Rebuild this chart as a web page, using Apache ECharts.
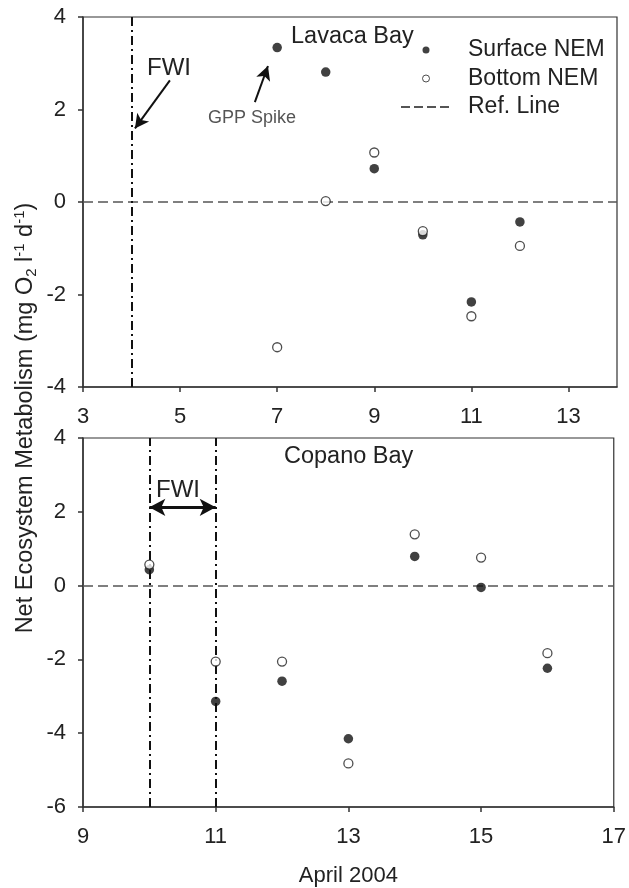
<!DOCTYPE html>
<html><head><meta charset="utf-8">
<script src="https://cdn.jsdelivr.net/npm/echarts@6/dist/echarts.min.js"></script>
<style>html,body{margin:0;padding:0;background:#fff}#c{width:629px;height:888px}</style>
</head><body><div id="c"></div>
<script>
// ---- data ----
const lavacaDays = [7, 8, 9, 10, 11, 12];
const lavacaSurface = [3.34, 2.81, 0.72, -0.71, -2.16, -0.43];
const lavacaBottom = [-3.14, 0.02, 1.07, -0.63, -2.47, -0.95];
const copanoDays = [10, 11, 12, 13, 14, 15, 16];
const copanoSurface = [0.43, -3.14, -2.59, -4.15, 0.79, -0.05, -2.24];
const copanoBottom = [0.57, -2.06, -2.06, -4.82, 1.39, 0.76, -1.83];
const lavacaFWI = [4];
const copanoFWI = [10, 11];
const refLineValue = 0;
const topXRange = [3, 14];
const topYRange = [-4, 4];
const botXRange = [9, 17];
const botYRange = [-6, 4];
const tickStep = 2;
const legendNames = ['Surface NEM', 'Bottom NEM', 'Ref. Line'];
// annotation arrows (data coordinates)
const fwiArrowTop = [[4.79, 2.63], [4.07, 1.59]];
const gppArrow = [[6.54, 2.16], [6.81, 2.94]];
const fwiSpanBottom = [[10, 2.12], [11, 2.12]];

const FONT = '"Liberation Sans", Arial, sans-serif';
const pairs = (xs, ys) => xs.map((x, i) => [x, ys[i]]);
const chart = echarts.init(document.getElementById('c'), null, {renderer: 'canvas'});

const axisCommon = {
  type: 'value', splitLine: {show: false},
  axisLine: {show: true, onZero: false, lineStyle: {color: '#333', width: 1.5}},
  axisTick: {show: true, length: 5, lineStyle: {color: '#333', width: 1.5}},
  axisLabel: {fontFamily: FONT, fontSize: 22, color: '#222'}
};
const xAx = (grid, r, extra) => Object.assign({}, axisCommon, {gridIndex: grid, min: r[0], max: r[1], interval: tickStep,
  axisLabel: Object.assign({}, axisCommon.axisLabel, {margin: 19}, extra || {})});
const yAx = (grid, r) => Object.assign({}, axisCommon, {gridIndex: grid, min: r[0], max: r[1], interval: tickStep,
  axisLabel: Object.assign({}, axisCommon.axisLabel, {margin: 17})});

const surfStyle = {type: 'scatter', symbol: 'circle', symbolSize: 9.5, itemStyle: {color: '#111'}, z: 5};
const botStyle = {type: 'scatter', symbol: 'circle', symbolSize: 9, itemStyle: {color: '#fff', borderColor: '#222', borderWidth: 1.3}, z: 6};
const refLS = {type: [10, 5], color: '#555', width: 1.5};
const fwiLS = {type: [9, 4, 2, 4], color: '#111', width: 2};
const arrowLS = {type: 'solid', color: '#111', width: 2};

function refSeries(g) {
  return {name: 'Ref. Line', type: 'line', xAxisIndex: g, yAxisIndex: g, data: [], symbol: 'none', showSymbol: false,
    itemStyle: {color: '#555'}, lineStyle: {type: [9, 4], color: '#555', width: 1.5}, z: 2,
    markLine: {silent: true, symbol: 'none', label: {show: false}, lineStyle: refLS, data: [{yAxis: refLineValue}]}};
}
function fwiSeries(g, xs, arrows, arrowSym) {
  const d = xs.map(x => ({xAxis: x}));
  return {type: 'line', xAxisIndex: g, yAxisIndex: g, data: [], symbol: 'none', z: 3,
    markLine: {silent: true, symbol: 'none', label: {show: false}, lineStyle: fwiLS, animation: false,
      data: d.concat(arrows.map(a => [
        {coord: a[0], symbol: arrowSym[0], symbolSize: [11, 14], lineStyle: Object.assign({}, arrowLS)},
        {coord: a[1], symbol: arrowSym[1], symbolSize: [11, 14]}
      ]))}};
}

const option = {
  animation: false,
  backgroundColor: '#fff',
  grid: [
    {left: 83, top: 17, width: 534, height: 370, show: true, borderColor: '#333', borderWidth: 1.2, backgroundColor: 'transparent'},
    {left: 83, top: 438, width: 534, height: 369, show: true, borderColor: '#333', borderWidth: 1.2, backgroundColor: 'transparent'}
  ],
  xAxis: [
    xAx(0, topXRange, {showMaxLabel: false}),
    Object.assign(xAx(1, botXRange), {name: 'April 2004', nameLocation: 'middle', nameGap: 58,
      nameTextStyle: {fontFamily: FONT, fontSize: 22, color: '#222'}})
  ],
  yAxis: [yAx(0, topYRange), yAx(1, botYRange)],
  legend: {
    orient: 'vertical', left: 395, top: 33.5, itemWidth: 50, itemHeight: 7, itemGap: 5.5, selectedMode: false,
    data: [
      {name: legendNames[0]},
      {name: legendNames[1], itemStyle: {borderWidth: 1}},
      {name: legendNames[2], itemStyle: {opacity: 0}}
    ],
    textStyle: {fontFamily: FONT, fontSize: 23, color: '#222', lineHeight: 23, padding: [0, 0, 0, 12]}
  },
  series: [
    refSeries(0), refSeries(1),
    fwiSeries(0, lavacaFWI, [fwiArrowTop, gppArrow], ['none', 'arrow']),
    fwiSeries(1, copanoFWI, [], ['none', 'none']),
    {type: 'line', xAxisIndex: 1, yAxisIndex: 1, data: [], symbol: 'none', z: 4,
      markLine: {silent: true, label: {show: false}, symbol: ['arrow', 'arrow'], symbolSize: [13, 16],
        lineStyle: {type: 'solid', color: '#111', width: 3},
        data: [[{coord: fwiSpanBottom[0]}, {coord: fwiSpanBottom[1]}]]}},
    Object.assign({name: 'Surface NEM', xAxisIndex: 0, yAxisIndex: 0, data: pairs(lavacaDays, lavacaSurface)}, surfStyle),
    Object.assign({name: 'Bottom NEM', xAxisIndex: 0, yAxisIndex: 0, data: pairs(lavacaDays, lavacaBottom)}, botStyle),
    Object.assign({name: 'Surface NEM', xAxisIndex: 1, yAxisIndex: 1, data: pairs(copanoDays, copanoSurface)}, surfStyle),
    Object.assign({name: 'Bottom NEM', xAxisIndex: 1, yAxisIndex: 1, data: pairs(copanoDays, copanoBottom)}, botStyle)
  ],
  graphic: [
    {type: 'text', x: 291, y: 37, style: {text: 'Lavaca Bay', font: '23.5px ' + FONT, fill: '#222', verticalAlign: 'middle'}},
    {type: 'text', x: 147, y: 68, style: {text: 'FWI', font: '24px ' + FONT, fill: '#222', verticalAlign: 'middle'}},
    {type: 'text', x: 208, y: 118, style: {text: 'GPP Spike', font: '18px ' + FONT, fill: '#555', verticalAlign: 'middle'}},
    {type: 'text', x: 284, y: 457, style: {text: 'Copano Bay', font: '23.5px ' + FONT, fill: '#222', verticalAlign: 'middle'}},
    {type: 'text', x: 156, y: 490, style: {text: 'FWI', font: '24px ' + FONT, fill: '#222', verticalAlign: 'middle'}},
    {type: 'text', x: 26, y: 418, rotation: Math.PI / 2,
      style: {
        text: '{a|Net Ecosystem Metabolism (mg O}{sub|2}{a| l}{sup|-1}{a| d}{sup|-1}{a|)}',
        align: 'center', verticalAlign: 'middle', fill: '#222',
        rich: {
          a: {fontFamily: FONT, fontSize: 23.5, lineHeight: 27, fill: '#222'},
          sub: {fontFamily: FONT, fontSize: 15, lineHeight: 15, verticalAlign: 'bottom', fill: '#222'},
          sup: {fontFamily: FONT, fontSize: 15, lineHeight: 15, verticalAlign: 'top', fill: '#222'}
        }
      }}
  ]
};
chart.setOption(option);
</script></body></html>
